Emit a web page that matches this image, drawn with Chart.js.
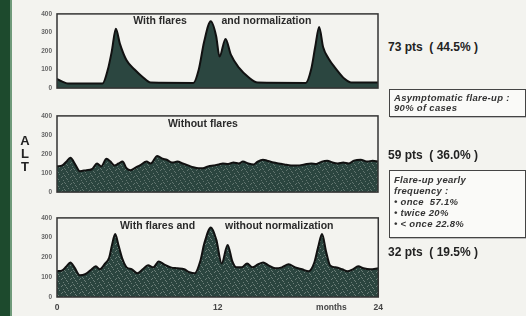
<!DOCTYPE html>
<html lang="en">
<head>
<meta charset="UTF-8">
<title>ALT profiles</title>
<script src="https://cdn.jsdelivr.net/npm/chart.js"></script>
<style>
  body { margin: 0; background: #f3f3ef; font-family: "Liberation Sans", Arial, sans-serif; }
  #page { position: relative; width: 526px; height: 316px; overflow: hidden; }
  #bar { position: absolute; left: 0; top: 0; width: 10px; height: 316px; background: #1d4a2d; border-right: 2px solid #6f9a7a; }
  canvas { position: absolute; }
  .alt { position: absolute; left: 19px; width: 12px; text-align: center; font: bold 13px "Liberation Sans", Arial, sans-serif; color: #222; line-height: 13px; }
  .pts { position: absolute; left: 388px; font: bold 12px "Liberation Sans", Arial, sans-serif; color: #222; white-space: pre; line-height: 14px; }
  .box { position: absolute; left: 389px; width: 127px; border: 1.5px solid #444; background: #fafaf8; padding: 3px 4px;
         font: italic bold 9.5px "Liberation Sans", Arial, sans-serif; color: #333; line-height: 10px; letter-spacing: 0.3px;
         box-shadow: 1px 1px 0 #bbb; white-space: nowrap; }
</style>
</head>
<body>
<div id="page">
  <div id="bar"></div>
  <canvas id="c1" width="366" height="92" style="left:20px; top:5px"></canvas>
  <canvas id="c2" width="366" height="94" style="left:20px; top:107px"></canvas>
  <canvas id="c3" width="369" height="107" style="left:20px; top:209px"></canvas>

  <div class="alt" style="top:134px">A<br>L<br>T</div>

  <div class="pts" style="top:40px">73 pts  ( 44.5% )</div>
  <div class="box" style="top:89px; height:20px">Asymptomatic flare-up :<br>90% of cases</div>
  <div class="pts" style="top:148px">59 pts  ( 36.0% )</div>
  <div class="box" style="top:170px; height:60px; line-height:11px">Flare-up yearly<br>frequency :<br>• once &nbsp;57.1%<br>• twice 20%<br>• &lt; once 22.8%</div>
  <div class="pts" style="top:245px">32 pts  ( 19.5% )</div>
</div>

<script>
// ALT (IU/L) over 24 months
const yTicks = [0, 100, 200, 300, 400];

// panel 1: with flares and normalization
const flareMonths = [0, 0.4, 0.8, 3.4, 3.8, 4.1, 4.4, 4.7, 5.2, 5.8, 6.4, 7.0,
  10.2, 10.6, 11.0, 11.5, 11.9, 12.15, 12.6, 13.0, 13.6, 14.3, 15.0,
  18.6, 19.0, 19.3, 19.6, 19.9, 20.3, 20.9, 21.5, 22.0, 24];
const flareALT = [50, 35, 25, 25, 100, 200, 320, 240, 150, 100, 60, 30,
  28, 100, 250, 360, 280, 170, 265, 180, 110, 60, 30,
  28, 100, 220, 330, 220, 160, 100, 50, 30, 30];

// panel 2: without flares
const steadyMonths = [0, 0.4, 0.7, 1.0, 1.4, 1.7, 2.2, 2.6, 3.0, 3.3, 3.7, 4.0, 4.3, 4.6, 4.9,
  5.2, 5.5, 5.9, 6.2, 6.7, 7.0, 7.5, 7.9, 8.2, 8.6, 9.0, 9.4, 9.8, 10.2, 10.6, 10.9,
  11.3, 11.7, 12.1, 12.4, 12.8, 13.2, 13.6, 13.9, 14.3, 14.7, 15.0, 15.4, 15.7, 16.2,
  16.6, 17.0, 17.5, 18.0, 18.5, 19.0, 19.4, 19.8, 20.2, 20.6, 21.0, 21.4, 21.8, 22.2,
  22.7, 23.2, 23.6, 24];
const steadyALT = [135, 140, 160, 180, 140, 110, 115, 120, 150, 135, 175, 160, 140, 150, 160,
  125, 115, 130, 140, 160, 150, 190, 175, 170, 155, 160, 150, 140, 130, 125, 125,
  135, 140, 145, 150, 148, 155, 150, 160, 150, 145, 160, 170, 165, 155,
  150, 145, 140, 140, 145, 150, 148, 160, 165, 155, 150, 155, 150, 165,
  170, 160, 165, 160];

// panel 3: with flares and without normalization
const mixedMonths = [0, 0.4, 0.7, 1.0, 1.3, 1.7, 2.1, 2.5, 2.9, 3.2, 3.6, 3.9, 4.1, 4.35, 4.6,
  4.9, 5.2, 5.6, 6.0, 6.4, 6.8, 7.2, 7.6, 8.0, 8.5, 9.0, 9.5, 9.9, 10.3, 10.7, 11.0,
  11.5, 11.9, 12.3, 12.75, 13.1, 13.4, 13.8, 14.2, 14.6, 15.0, 15.4, 15.8, 16.3, 16.8,
  17.3, 17.8, 18.3, 18.8, 19.2, 19.5, 19.8, 20.1, 20.4, 20.8, 21.3, 21.7, 22.1, 22.5,
  22.9, 23.4, 24];
const mixedALT = [130, 135, 155, 175, 150, 110, 115, 135, 155, 140, 170, 200, 260, 318, 260,
  190, 150, 140, 120, 140, 160, 150, 180, 165, 150, 145, 140, 125, 120, 180, 270,
  352, 290, 170, 263, 180, 150, 150, 170, 150, 165, 175, 160, 145, 150,
  165, 150, 140, 130, 170, 250, 318, 230, 160, 150, 140, 130, 140, 155,
  145, 140, 145];

const xTickMonths = [0, 12, 20.5, 24];
const xTickLabels = ['0', '12', 'months', '24'];

// irregular speckle texture for the noisy panels
function speckle(base, dot) {
  const p = document.createElement('canvas');
  p.width = 9; p.height = 7;
  const g = p.getContext('2d');
  g.fillStyle = base; g.fillRect(0, 0, 9, 7);
  g.fillStyle = dot;
  [[1, 1], [5, 0], [7, 3], [3, 4], [0, 6], [6, 6], [2, 2], [8, 5]].forEach(([x, y]) => g.fillRect(x, y, 1, 1));
  return g.createPattern(p, 'repeat');
}

const panelText = {
  id: 'panelText',
  afterDraw(chart, args, opts) {
    const ctx = chart.ctx, a = chart.chartArea;
    ctx.save();
    ctx.strokeStyle = '#333';
    ctx.lineWidth = 1.5;
    ctx.strokeRect(a.left, a.top, a.right - a.left, a.bottom - a.top);
    ctx.font = 'bold 10.5px "Liberation Sans", Arial, sans-serif';
    ctx.fillStyle = '#2a2a2a';
    ctx.textBaseline = 'middle';
    (opts.items || []).forEach(t => {
      ctx.fillText(t.text, chart.scales.x.getPixelForValue(t.x), chart.scales.y.getPixelForValue(t.y));
    });
    ctx.restore();
  }
};

function makePanel(id, months, values, fill, items, showX) {
  new Chart(document.getElementById(id), {
    type: 'line',
    data: {
      datasets: [{
        data: months.map((m, i) => ({ x: m, y: values[i] })),
        borderColor: '#111',
        borderWidth: 2,
        backgroundColor: fill,
        fill: 'origin',
        pointRadius: 0,
        tension: 0.25,
        cubicInterpolationMode: 'monotone'
      }]
    },
    options: {
      responsive: false,
      animation: false,
      layout: { padding: { top: 6, right: 8, bottom: showX ? 0 : 6, left: 0 } },
      plugins: { legend: { display: false }, tooltip: { enabled: false }, panelText: { items } },
      scales: {
        x: {
          type: 'linear', min: 0, max: 24, display: showX,
          grid: { display: false, drawTicks: false }, border: { display: false },
          afterBuildTicks: s => { s.ticks = xTickMonths.map(v => ({ value: v })); },
          afterFit: s => { s.height = showX ? 19 : 0; },
          ticks: {
            autoSkip: false, maxRotation: 0, padding: 6,
            font: { family: 'Liberation Sans', size: 8.5, weight: 'bold' }, color: '#444',
            callback: (v, i) => xTickLabels[i]
          }
        },
        y: {
          min: 0, max: 400,
          grid: { display: false, drawTicks: false }, border: { display: false },
          afterBuildTicks: s => { s.ticks = yTicks.map(v => ({ value: v })); },
          afterFit: s => { s.width = 37; },
          ticks: { padding: 5, font: { family: 'Liberation Sans', size: 6.5, weight: 'bold' }, color: '#666' }
        }
      }
    },
    plugins: [panelText]
  });
}

makePanel('c1', flareMonths, flareALT, '#2b4640',
  [{ text: 'With flares', x: 5.7, y: 362 }, { text: 'and normalization', x: 12.3, y: 362 }], false);
makePanel('c2', steadyMonths, steadyALT, speckle('#2b453f', '#62756f'),
  [{ text: 'Without flares', x: 8.3, y: 355 }], false);
makePanel('c3', mixedMonths, mixedALT, speckle('#2b453f', '#6c7e78'),
  [{ text: 'With flares and', x: 4.7, y: 356 }, { text: 'without normalization', x: 12.55, y: 356 }], true);
</script>
</body>
</html>
